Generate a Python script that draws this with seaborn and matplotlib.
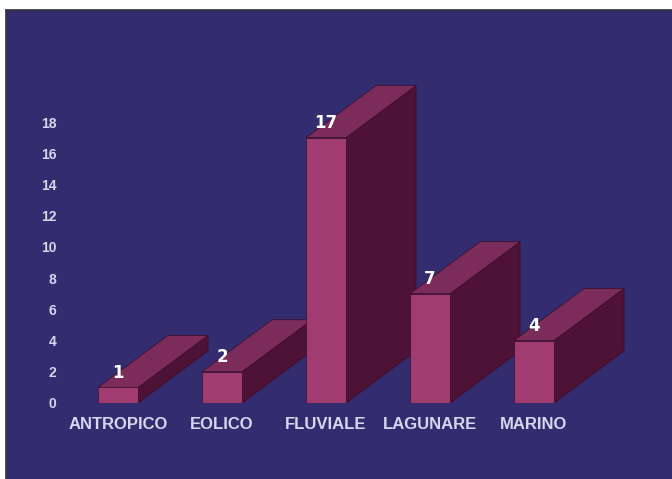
import matplotlib
matplotlib.use("Agg")
import matplotlib.pyplot as plt
import seaborn as sns
import pandas as pd
from matplotlib.patches import Polygon, Rectangle
from matplotlib.lines import Line2D

categories = ["ANTROPICO", "EOLICO", "FLUVIALE", "LAGUNARE", "MARINO"]
values = [1, 2, 17, 7, 4]
yticks = [0, 2, 4, 6, 8, 10, 12, 14, 16, 18]

BG = "#332c6e"
FRONT = "#a03c70"
TOP = "#7c2c5a"
SIDE = "#4e1236"
EDGE = "#3a0c2a"
TXT = "#d9d5ee"

sns.set_theme(style="white")
plt.rcParams["font.family"] = ["Liberation Sans", "DejaVu Sans"]

W, H = 672, 479
fig = plt.figure(figsize=(W / 100, H / 100), dpi=100, facecolor=BG)

px_left, px_right, px_top, px_zero = 62, 672, 10, 403
ax = fig.add_axes([px_left / W, (H - px_zero) / H, (px_right - px_left) / W, (px_zero - px_top) / H])
ax.set_facecolor(BG)

df = pd.DataFrame({"cat": categories, "val": values})
sns.barplot(data=df, x="cat", y="val", width=0.385, color=FRONT, saturation=1,
            ax=ax, zorder=3, edgecolor=EDGE, linewidth=0.5)

ppu_x = 104.0
ppu_y = 281.0 / 18
ax.set_xlim((px_left - 118) / ppu_x, (px_right - 118) / ppu_x)
ax.set_ylim(0, (px_zero - px_top) / ppu_y)

dx = 70 / ppu_x
dy = 52 / ppu_y
for i, p in enumerate(ax.patches):
    x0, w, h = p.get_x(), p.get_width(), p.get_height()
    z = 2 + i * 0.1
    top = Polygon([(x0, h), (x0 + w, h), (x0 + w + dx, h + dy), (x0 + dx, h + dy)],
                  closed=True, facecolor=TOP, edgecolor=EDGE, linewidth=0.5, zorder=z)
    side = Polygon([(x0 + w, 0), (x0 + w, h), (x0 + w + dx, h + dy), (x0 + w + dx, dy)],
                   closed=True, facecolor=SIDE, edgecolor=EDGE, linewidth=0.5, zorder=z)
    ax.add_patch(side)
    ax.add_patch(top)
    p.set_zorder(z + 0.05)

ax.bar_label(ax.containers[0], labels=[str(v) for v in values], padding=4,
             color="white", fontsize=12, fontweight="bold", family="DejaVu Sans", zorder=10)

ax.set_yticks(yticks)
ax.set_yticklabels([str(t) for t in yticks])
ax.tick_params(axis="y", length=0, pad=4, labelsize=10, labelcolor=TXT)
ax.tick_params(axis="x", length=0, pad=10, labelsize=12, labelcolor=TXT)
for lab in ax.get_xticklabels() + ax.get_yticklabels():
    lab.set_fontweight("bold")
ax.set_xlabel("")
ax.set_ylabel("")
for s in ax.spines.values():
    s.set_visible(False)
ax.grid(False)

# white frame strips and border lines
fig.add_artist(Rectangle((0, 1 - 9.5 / H), 1, 9.5 / H, transform=fig.transFigure,
                         facecolor="white", edgecolor="none", zorder=20))
fig.add_artist(Rectangle((0, 0), 5.5 / W, 1, transform=fig.transFigure,
                         facecolor="white", edgecolor="none", zorder=20))
fig.add_artist(Line2D([6 / W, 1], [1 - 10 / H, 1 - 10 / H], transform=fig.transFigure,
                      color="#333333", linewidth=1.2, zorder=21))
fig.add_artist(Line2D([6 / W, 6 / W], [0, 1 - 10 / H], transform=fig.transFigure,
                      color="#333333", linewidth=1.2, zorder=21))

fig.savefig("out.png", dpi=100, facecolor=BG)
